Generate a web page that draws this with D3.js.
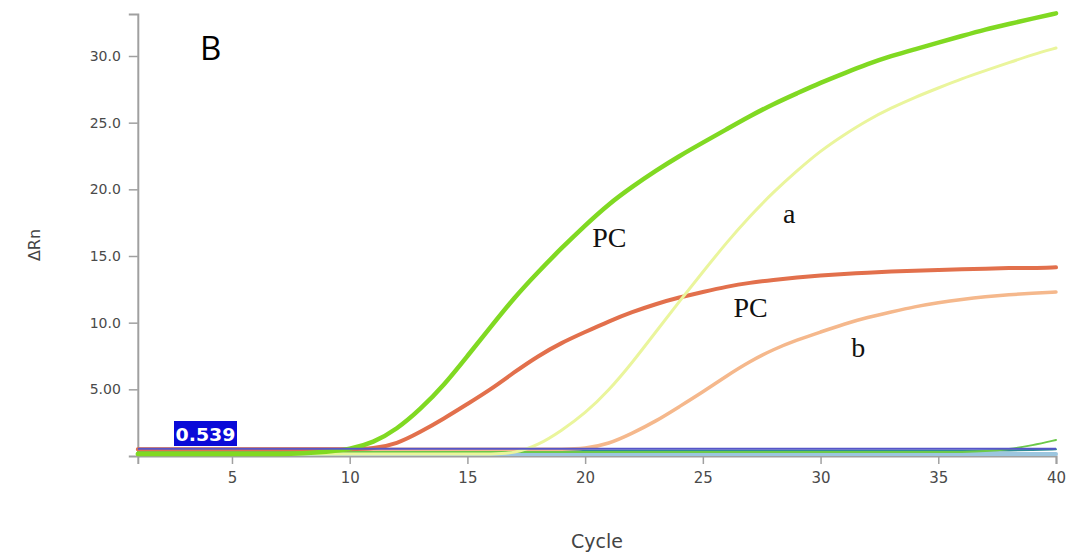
<!DOCTYPE html>
<html><head><meta charset="utf-8">
<script src="https://cdn.jsdelivr.net/npm/d3@7"></script>
<style>
html,body{margin:0;padding:0;background:#fff;}
svg{display:block;}
</style></head>
<body>
<svg id="chart" width="1072" height="558"></svg>
<script>
// ---- data ----
const cycles = [1,2,3,4,5,6,7,8,9,10,11,12,13,14,15,16,17,18,19,20,21,22,23,24,25,26,27,28,29,30,31,32,33,34,35,36,37,38,39,40];
const pcGreen = [0.15,0.15,0.15,0.15,0.15,0.15,0.15,0.2,0.3,0.5,1.0,2.0,3.5,5.3,7.5,9.7,11.9,13.8,15.6,17.3,18.9,20.2,21.4,22.5,23.5,24.5,25.5,26.4,27.2,28.0,28.7,29.4,30.0,30.5,31.0,31.5,32.0,32.4,32.8,33.2];
const sampleA = [0.15,0.15,0.15,0.15,0.15,0.15,0.15,0.15,0.15,0.15,0.15,0.15,0.15,0.15,0.15,0.15,0.2,0.8,1.9,3.2,4.9,7.0,9.3,11.6,13.8,16.0,18.0,19.8,21.4,22.9,24.1,25.2,26.1,26.9,27.6,28.3,28.9,29.5,30.1,30.6];
const pcRed = [0.5,0.5,0.5,0.5,0.5,0.5,0.5,0.5,0.5,0.5,0.55,0.9,1.8,2.8,3.9,5.0,6.3,7.5,8.5,9.3,10.1,10.8,11.4,11.9,12.3,12.7,13.0,13.2,13.4,13.55,13.65,13.75,13.85,13.9,13.95,14.0,14.05,14.1,14.1,14.15];
const sampleB = [0.5,0.5,0.5,0.5,0.5,0.5,0.5,0.5,0.5,0.5,0.5,0.5,0.5,0.5,0.5,0.5,0.5,0.5,0.5,0.55,0.9,1.7,2.6,3.7,4.8,6.0,7.1,8.0,8.7,9.3,9.9,10.4,10.8,11.2,11.5,11.75,11.95,12.1,12.2,12.3];
const ntcBlue = [0.15,0.15,0.15,0.15,0.15,0.15,0.15,0.15,0.15,0.15,0.15,0.15,0.15,0.15,0.15,0.15,0.15,0.15,0.15,0.15,0.15,0.15,0.15,0.15,0.15,0.15,0.15,0.15,0.15,0.15,0.15,0.15,0.15,0.15,0.15,0.15,0.15,0.15,0.15,0.15];
const ntcTeal = [0.4,0.4,0.4,0.4,0.4,0.4,0.4,0.4,0.4,0.4,0.4,0.4,0.4,0.4,0.4,0.4,0.4,0.4,0.4,0.4,0.4,0.4,0.4,0.4,0.4,0.4,0.4,0.4,0.4,0.4,0.4,0.4,0.4,0.4,0.4,0.4,0.4,0.42,0.45,0.5];
const ntcGreen = [0.3,0.3,0.3,0.3,0.3,0.3,0.3,0.3,0.3,0.3,0.3,0.3,0.3,0.3,0.3,0.3,0.3,0.3,0.3,0.3,0.3,0.3,0.3,0.3,0.3,0.3,0.3,0.3,0.3,0.3,0.3,0.3,0.3,0.3,0.3,0.3,0.35,0.5,0.8,1.2];
const threshold = 0.539;
const yTicks = [5,10,15,20,25,30];
const yTickLabels = ["5.00","10.0","15.0","20.0","25.0","30.0"];
const xTicks = [5,10,15,20,25,30,35,40];
const annotations = [
  {text:"PC", cycle:20.3, value:15.7},
  {text:"a", cycle:28.4, value:17.5},
  {text:"PC", cycle:26.3, value:10.4},
  {text:"b", cycle:31.3, value:7.4}
];

// ---- drawing ----
const svg = d3.select("#chart");
const x = d3.scaleLinear().domain([1,40]).range([137.8,1056]);
const y = d3.scaleLinear().domain([0,33.15]).range([456,14]);

const axisColor = "#a0a0a0";
const labelColor = "#4a4a4a";

// x axis
const gx = svg.append("g").attr("transform",`translate(0,${y(0)})`)
  .call(d3.axisBottom(x).tickValues(xTicks).tickSizeInner(8).tickSizeOuter(8).tickPadding(8).tickFormat(d3.format("d")));
// y axis
const gy = svg.append("g").attr("transform",`translate(${x(1)},0)`)
  .call(d3.axisLeft(y).tickValues(yTicks).tickSizeInner(9).tickSizeOuter(9).tickPadding(8)
    .tickFormat((d,i)=>yTickLabels[i]));
[gx,gy].forEach(g=>{
  g.selectAll("path.domain").attr("stroke",axisColor).attr("stroke-width",2);
  g.selectAll(".tick line").attr("stroke",axisColor).attr("stroke-width",1.5);
  g.selectAll(".tick text").attr("fill",labelColor)
    .attr("font-family","'DejaVu Sans', sans-serif").attr("font-size",14);
});
gx.selectAll(".tick text").attr("font-size",15);

const line = d3.line().x((d,i)=>x(cycles[i])).y(d=>y(d)).curve(d3.curveBasis);

const series = [
  {data:ntcBlue, color:"#9cc6df", w:4},
  {data:ntcTeal, color:"#2e8c95", w:2},
  {data:ntcGreen, color:"#6cc94a", w:2},
  {data:sampleB, color:"#f5b88c", w:3.5},
  {data:pcRed, color:"#e2704c", w:4},
  {data:sampleA, color:"#eaf59c", w:3},
  {data:pcGreen, color:"#80d922", w:4.5}
];
svg.append("g").selectAll("path").data(series).join("path")
  .attr("d",s=>line(s.data)).attr("fill","none")
  .attr("stroke",s=>s.color).attr("stroke-width",s=>s.w)
  .attr("stroke-linejoin","round").attr("stroke-linecap","round");

// threshold
svg.append("line").attr("x1",x(1)).attr("x2",x(40))
  .attr("y1",y(threshold)).attr("y2",y(threshold))
  .attr("stroke","#5555c8").attr("stroke-width",2);
const tb = svg.append("g");
tb.append("rect").attr("x",174).attr("y",421).attr("width",63).attr("height",25).attr("fill","#0a0ad8");
tb.append("text").attr("x",205.5).attr("y",441).attr("text-anchor","middle")
  .attr("fill","#fff").attr("font-family","'DejaVu Sans', sans-serif").attr("font-size",17).attr("font-weight","bold")
  .attr("textLength",60).attr("lengthAdjust","spacingAndGlyphs")
  .text(d3.format(".3f")(threshold));

// annotations
svg.append("g").selectAll("text").data(annotations).join("text")
  .attr("x",d=>x(d.cycle)).attr("y",d=>y(d.value))
  .attr("font-family","'Liberation Serif', 'Times New Roman', serif")
  .attr("font-size",28).attr("fill","#111").text(d=>d.text);

// panel letter
svg.append("text").attr("x",200).attr("y",60)
  .attr("font-family","'Open Sans', sans-serif").attr("font-size",33).attr("fill","#000").text("B");

// axis titles
svg.append("text").attr("x",597).attr("y",548).attr("text-anchor","middle")
  .attr("font-family","'DejaVu Sans', sans-serif").attr("font-size",19).attr("fill","#444").text("Cycle");
svg.append("text").attr("transform","translate(40,245) rotate(-90)").attr("text-anchor","middle")
  .attr("font-family","'DejaVu Sans', sans-serif").attr("font-size",16).attr("fill","#444").text("ΔRn");
</script>
</body></html>
